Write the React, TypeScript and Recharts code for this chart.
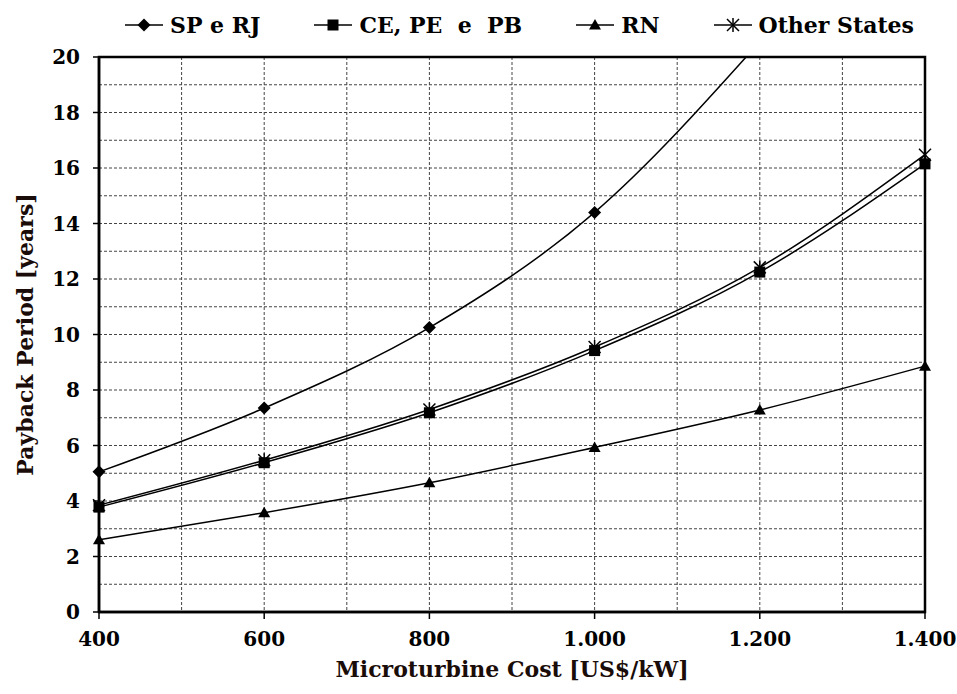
import React from 'react';
import { LineChart, Line, XAxis, YAxis, CartesianGrid, ReferenceArea, Legend } from 'recharts';

const costs = [400, 600, 800, 1000, 1200, 1400];
const spRj: (number | null)[] = [5.05, 7.35, 10.25, 14.4, 20.55, null];
const cePePb = [3.78, 5.38, 7.18, 9.42, 12.25, 16.15];
const rn = [2.6, 3.58, 4.66, 5.93, 7.28, 8.86];
const otherStates = [3.85, 5.47, 7.3, 9.55, 12.42, 16.48];

const xTicks = [400, 600, 800, 1000, 1200, 1400];
const yTicks = [0, 2, 4, 6, 8, 10, 12, 14, 16, 18, 20];
const xGrid = [400, 500, 600, 700, 800, 900, 1000, 1100, 1200, 1300, 1400];
const yGrid = [0, 1, 2, 3, 4, 5, 6, 7, 8, 9, 10, 11, 12, 13, 14, 15, 16, 17, 18, 19, 20];

const seriesNames = {
  sp: 'SP e RJ',
  ce: 'CE, PE  e  PB',
  rn: 'RN',
  other: 'Other States',
};

const data = costs.map((c, i) => ({
  cost: c,
  sp: spRj[i],
  ce: cePePb[i],
  rn: rn[i],
  other: otherStates[i],
}));

const FONT = '"DejaVu Serif", serif';
const INK = '#000';

type Shape = 'diamond' | 'square' | 'triangle' | 'star';

function Marker({ cx, cy, shape }: { cx: number; cy: number; shape: Shape }) {
  if (cx == null || cy == null || isNaN(cx) || isNaN(cy)) return null;
  if (shape === 'diamond') {
    return <path d={`M${cx},${cy - 6.5}L${cx + 6.5},${cy}L${cx},${cy + 6.5}L${cx - 6.5},${cy}Z`} fill={INK} />;
  }
  if (shape === 'square') {
    return <rect x={cx - 5.5} y={cy - 5.5} width={11} height={11} fill={INK} />;
  }
  if (shape === 'triangle') {
    return <path d={`M${cx},${cy - 6}L${cx + 6},${cy + 4.5}L${cx - 6},${cy + 4.5}Z`} fill={INK} />;
  }
  return (
    <g stroke={INK} strokeWidth={1.5} fill="none">
      <line x1={cx - 6} y1={cy - 6} x2={cx + 6} y2={cy + 6} />
      <line x1={cx - 6} y1={cy + 6} x2={cx + 6} y2={cy - 6} />
      <line x1={cx} y1={cy - 7} x2={cx} y2={cy + 7} />
    </g>
  );
}

const makeDot = (shape: Shape) => (props: any) => (
  <Marker key={`${shape}-${props.index}`} cx={props.cx} cy={props.cy} shape={shape} />
);

const fmtCost = (v: number) =>
  v >= 1000 ? `${Math.floor(v / 1000)}.${String(v % 1000).padStart(3, '0')}` : String(v);

const legendItems: { key: keyof typeof seriesNames; shape: Shape }[] = [
  { key: 'sp', shape: 'diamond' },
  { key: 'ce', shape: 'square' },
  { key: 'rn', shape: 'triangle' },
  { key: 'other', shape: 'star' },
];

function LegendContent() {
  return (
    <div style={{ display: 'flex', alignItems: 'center', paddingLeft: 125, height: 28 }}>
      {legendItems.map((it, i) => (
        <div key={it.key} style={{ display: 'flex', alignItems: 'center', marginRight: i < legendItems.length - 1 ? 54 : 0 }}>
          <svg width={38} height={20} style={{ display: 'block' }}>
            <line x1={0} y1={10} x2={38} y2={10} stroke={INK} strokeWidth={1.5} />
            <Marker cx={19} cy={10} shape={it.shape} />
          </svg>
          <span
            style={{
              marginLeft: 7,
              fontFamily: FONT,
              fontWeight: 700,
              fontSize: 22,
              color: INK,
              whiteSpace: 'pre',
              lineHeight: '28px',
            }}
          >
            {seriesNames[it.key]}
          </span>
        </div>
      ))}
    </div>
  );
}

function XLabel(props: any) {
  const vb = props.viewBox || { x: 99, y: 612, width: 826, height: 82 };
  const x = vb.x + vb.width / 2;
  const y = vb.y + 57;
  return (
    <text x={x} y={y} textAnchor="middle" dominantBaseline="central" fontFamily={FONT} fontWeight={700} fontSize={22} fill="#1a0c08">
      Microturbine Cost [US$/kW]
    </text>
  );
}

function YLabel(props: any) {
  const vb = props.viewBox || { x: 0, y: 57, width: 99, height: 555 };
  const x = vb.x + 25;
  const y = vb.y + vb.height / 2;
  return (
    <text
      x={x}
      y={y}
      transform={`rotate(-90, ${x}, ${y})`}
      textAnchor="middle"
      dominantBaseline="central"
      fontFamily={FONT}
      fontWeight={700}
      fontSize={22}
      fill="#1a0c08"
    >
      Payback Period [years]
    </text>
  );
}

const tickStyle = { fill: INK, fontSize: 20, fontFamily: FONT, fontWeight: 700 };

export default function App() {
  return (
    <div style={{ position: 'absolute', left: 0, top: 0, width: 957, height: 694, background: '#fff' }}>
      <LineChart width={957} height={694} data={data} margin={{ top: 57, right: 32, bottom: 0, left: 0 }}>
        <XAxis xAxisId="g" dataKey="cost" type="number" domain={[400, 1400]} ticks={xGrid} hide />
        <YAxis yAxisId="g" type="number" domain={[0, 20]} ticks={yGrid} hide allowDataOverflow />
        <CartesianGrid xAxisId="g" yAxisId="g" stroke="#444" strokeDasharray="3 2" strokeWidth={1} />
        <XAxis
          dataKey="cost"
          type="number"
          domain={[400, 1400]}
          ticks={xTicks}
          interval={0}
          tickFormatter={fmtCost}
          tickSize={7}
          tickMargin={13}
          height={82}
          axisLine={{ stroke: INK, strokeWidth: 2.5 }}
          tickLine={{ stroke: INK, strokeWidth: 1.5 }}
          tick={tickStyle}
          label={{ content: XLabel }}
        />
        <YAxis
          type="number"
          domain={[0, 20]}
          ticks={yTicks}
          interval={0}
          allowDataOverflow
          width={99}
          tickSize={6}
          tickMargin={13}
          axisLine={{ stroke: INK, strokeWidth: 2.5 }}
          tickLine={{ stroke: INK, strokeWidth: 1.5 }}
          tick={tickStyle}
          label={{ content: YLabel }}
        />
        <ReferenceArea x1={400} x2={1400} y1={0} y2={20} fill="none" stroke={INK} strokeWidth={2.5} ifOverflow="visible" />
        <Legend verticalAlign="top" content={<LegendContent />} wrapperStyle={{ top: 11, left: 0, width: 957, height: 0 }} />
        <Line dataKey="sp" name={seriesNames.sp} type="monotone" stroke={INK} strokeWidth={1.5} dot={makeDot('diamond')} isAnimationActive={false} />
        <Line dataKey="other" name={seriesNames.other} type="monotone" stroke={INK} strokeWidth={1.5} dot={makeDot('star')} isAnimationActive={false} />
        <Line dataKey="ce" name={seriesNames.ce} type="monotone" stroke={INK} strokeWidth={1.5} dot={makeDot('square')} isAnimationActive={false} />
        <Line dataKey="rn" name={seriesNames.rn} type="monotone" stroke={INK} strokeWidth={1.5} dot={makeDot('triangle')} isAnimationActive={false} />
      </LineChart>
    </div>
  );
}
